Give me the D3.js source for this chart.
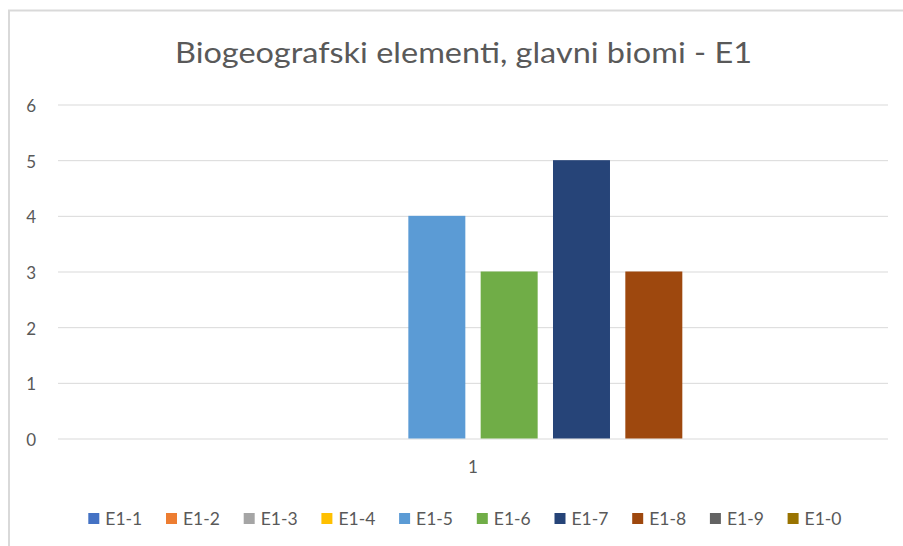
<!DOCTYPE html>
<html><head><meta charset="utf-8">
<script src="https://cdn.jsdelivr.net/npm/d3@7"></script>
<style>body{margin:0;background:#fff;}svg{display:block;}</style>
</head><body>
<svg id="c" width="903" height="546"></svg>
<script>
const categories = ["1"];
const seriesNames = ["E1-1","E1-2","E1-3","E1-4","E1-5","E1-6","E1-7","E1-8","E1-9","E1-0"];
const seriesValues = [0,0,0,0,4,3,5,3,0,0];
const seriesColors = ["#4472C4","#ED7D31","#A5A5A5","#FFC000","#5B9BD5","#70AD47","#264478","#9E480E","#636363","#997300"];
const yTicks = [0,1,2,3,4,5,6];
const title = "Biogeografski elementi, glavni biomi - E1";

(function(){
const svg = d3.select("#c");
const font = "Lato, 'Open Sans', sans-serif";
// chart border
svg.append("path").attr("d","M9,546V10.5H903").attr("fill","none").attr("stroke","#d9d9d9").attr("stroke-width",2);

const pl = 58, pr = 888, pt = 104.5, pb = 438.5;
const y = d3.scaleLinear().domain([0,6]).range([pb, pt]);
const x0 = d3.scaleBand().domain(categories).range([pl,pr]).paddingInner(0).paddingOuter(0.0862);
const x1 = d3.scaleBand().domain(seriesNames).range([0, x0.bandwidth()]).paddingInner(0.212).paddingOuter(0);

svg.append("text").attr("x",463.5).attr("y",63).attr("text-anchor","middle")
  .attr("font-family",font).attr("font-size",28.5).attr("fill","#595959")
  .attr("textLength",577).attr("lengthAdjust","spacingAndGlyphs").text(title);

const ga = svg.append("g").attr("transform",`translate(${pl},0)`)
  .call(d3.axisLeft(y).tickValues(yTicks).tickSize(-(pr-pl)).tickFormat(d3.format("d")).tickPadding(20));
ga.select(".domain").remove();
ga.selectAll(".tick line").attr("stroke","#d9d9d9");
ga.selectAll(".tick text").attr("font-family",font).attr("font-size",17).attr("fill","#595959").attr("x",-22).attr("dy","0.42em");

const g = svg.append("g");
categories.forEach(c => {
  g.selectAll("rect.b").data(seriesNames.map((s,i)=>({s, v: seriesValues[i], col: seriesColors[i]})))
   .enter().append("rect")
   .attr("x", d => x0(c) + x1(d.s)).attr("width", x1.bandwidth())
   .attr("y", d => y(d.v)).attr("height", d => y(0) - y(d.v))
   .attr("fill", d => d.col);
});

const gx = svg.append("g").attr("transform",`translate(0,${pb})`)
  .call(d3.axisBottom(x0).tickSize(0).tickPadding(22));
gx.select(".domain").remove();
gx.selectAll(".tick text").attr("font-family",font).attr("font-size",17).attr("fill","#595959");

// legend
const lg = svg.append("g");
const lx = 88.3, step = 77.7, ly = 518.5;
seriesNames.forEach((s,i) => {
  const it = lg.append("g").attr("transform",`translate(${lx + i*step},${ly})`);
  it.append("rect").attr("x",0).attr("y",-5.5).attr("width",11).attr("height",11).attr("fill",seriesColors[i]);
  it.append("text").attr("x",17).attr("y",0).attr("dy","0.36em").attr("font-family",font)
    .attr("font-size",17.5).attr("fill","#595959").text(s);
});
})();
</script>
</body></html>
